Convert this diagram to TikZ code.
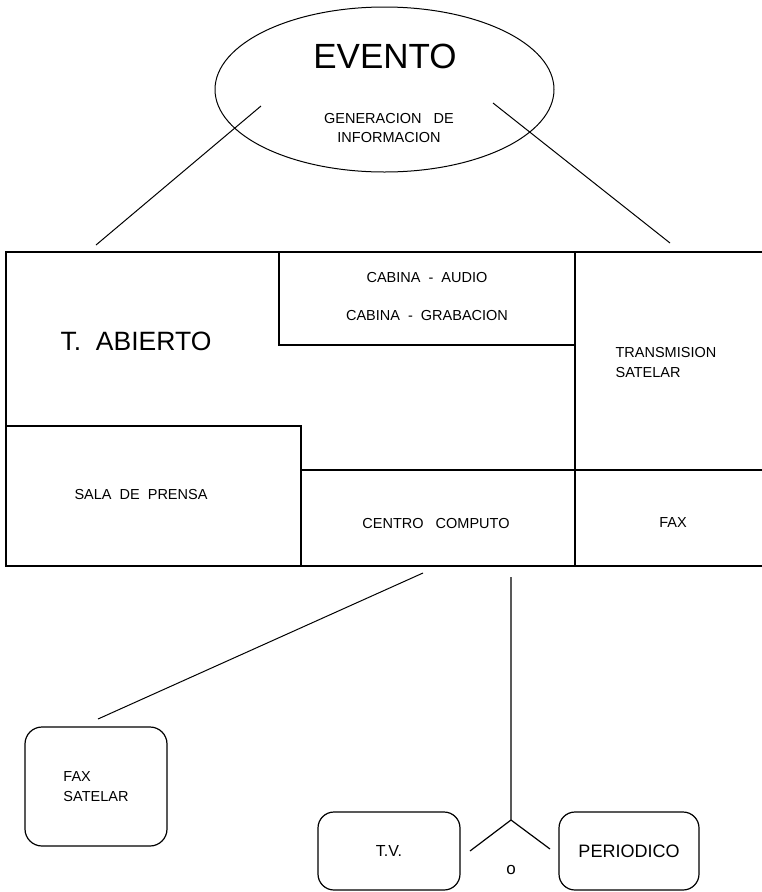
\documentclass[tikz,border=0pt]{standalone}
\usepackage{fontspec}
\setmainfont{Liberation Sans}
\usetikzlibrary{shapes.geometric}

\begin{document}
\begin{tikzpicture}[x=1pt,y=-1pt,line width=1.2pt]
            \tikzstyle{myTxt}=[inner sep=0pt,font=\fontsize{14.5}{20}\selectfont];
            \tikzstyle{myBig}=[inner sep=0pt,font=\fontsize{26.5}{30}\selectfont];
            \tikzstyle{myRound}=[draw,rounded corners=16pt,inner sep=0pt];
            \useasboundingbox (0,0) rectangle (762,892);
            % evento
            \node[ellipse,draw,line width=1pt,minimum width=339,minimum height=165] (evento) at (384.5,89.5) {};
            \node[inner sep=0pt,font=\fontsize{35}{40}\selectfont] (eventoTxt) at (385,56) {EVENTO};
            \node[myTxt,align=center,font=\fontsize{14.5}{18.5}\selectfont] (genInfo) at (389,128) {GENERACION\ \ \ DE\\INFORMACION};
            \coordinate (evL) at (261,106);
            \coordinate (evR) at (493,103);
            \coordinate (planL) at (96,245);
            \coordinate (planR) at (670,243);
            \draw[line width=1pt] (evL) -- (planL);
            \draw[line width=1pt] (evR) -- (planR);
            % plano
            \draw (762,252) -- (6,252) -- (6,566) -- (762,566);
            \draw (279,252) |- (575,345);
            \draw (575,252) -- (575,566);
            \draw (6,426) -| (301,566);
            \draw (301,470) -- (762,470);
            \node[myTxt] (cabAudio) at (427,278) {CABINA\ \ -\ \ AUDIO};
            \node[myTxt] (cabGrab) at (427,316) {CABINA\ \ -\ \ GRABACION};
            \node[myBig] (abierto) at (136,341) {T.\ \ ABIERTO};
            \node[myTxt,align=left,anchor=west] (transm) at (615,363) {TRANSMISION\\SATELAR};
            \node[myTxt] (sala) at (141,495) {SALA\ \ DE\ \ PRENSA};
            \node[myTxt] (centro) at (436,523) {CENTRO\ \ \ COMPUTO};
            \node[myTxt] (fax) at (673,523) {FAX};
            % salidas
            \node[myRound,myTxt,align=left,minimum width=142,minimum height=119,rounded corners=17pt] (faxSat) at (96,786.5) {FAX\\SATELAR};
            \node[myRound,minimum width=142,minimum height=78,font=\fontsize{16}{20}\selectfont] (tv) at (389,851) {T.V.};
            \node[myRound,minimum width=140,minimum height=78,font=\fontsize{18}{22}\selectfont] (periodico) at (629,851) {PERIODICO};
            \node[inner sep=0pt,font=\fontsize{17}{20}\selectfont] (o) at (511,870) {o};
            \coordinate (ccOut) at (423,573);
            \coordinate (fsTop) at (98,719);
            \coordinate (vTop) at (511,577);
            \coordinate (apex) at (511,820);
            \coordinate (tvR) at (470,851);
            \coordinate (perL) at (550,849);
            \draw[line width=1pt] (ccOut) -- (fsTop);
            \draw (vTop) -- (apex) -- (tvR);
            \draw (apex) -- (perL);
\end{tikzpicture}
\end{document}
